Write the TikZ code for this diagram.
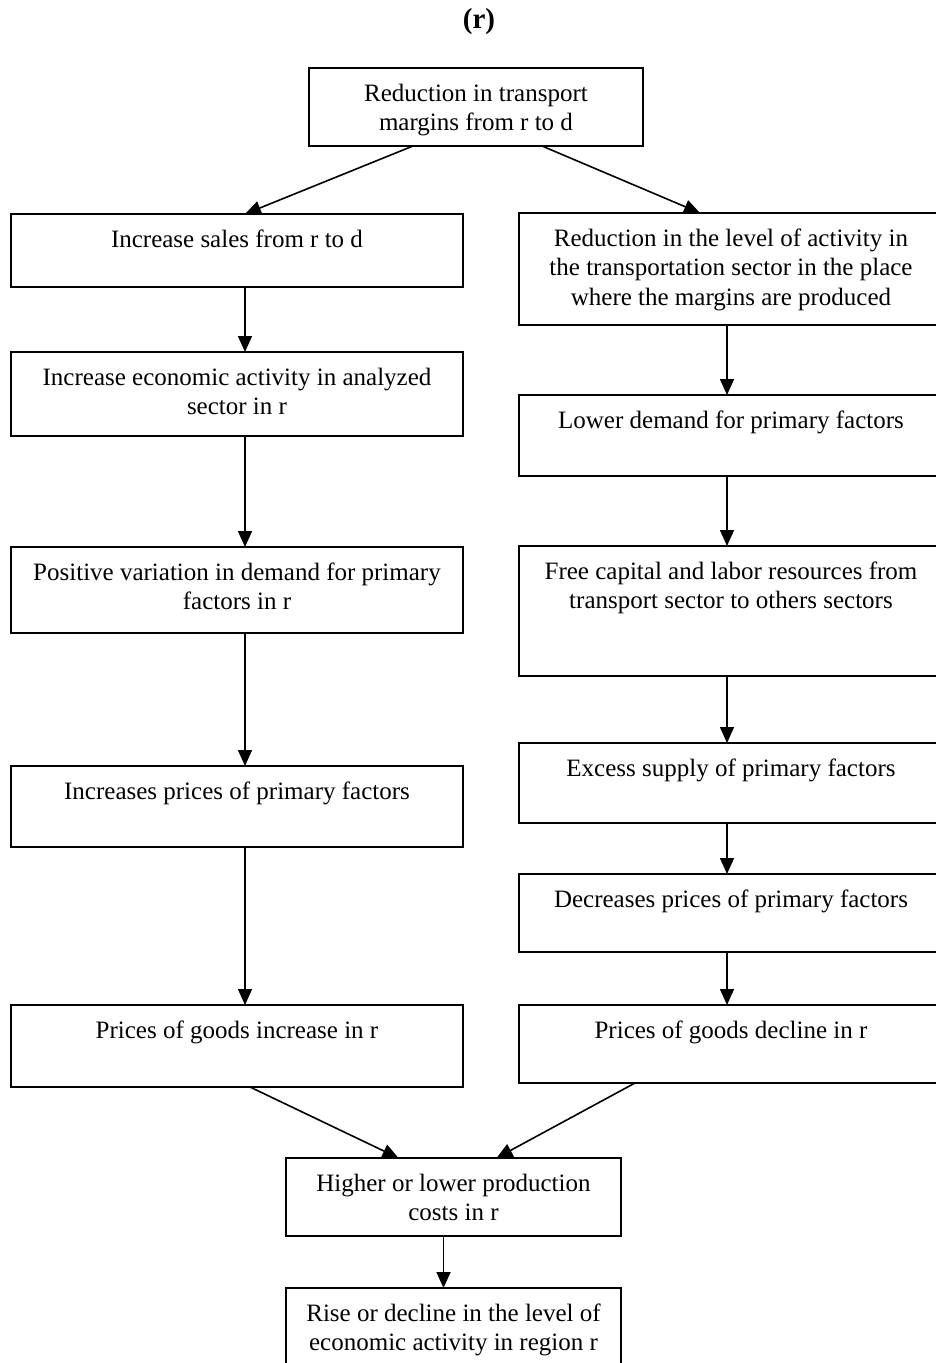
\documentclass[tikz,border=0pt]{standalone}
\usepackage{fontspec}
\setmainfont{Liberation Serif}
\usetikzlibrary{arrows.meta}
\newcommand{\flowbox}[6]{%
  \node[fbox, anchor=north west] (#1) at (#2,#3)
  {\parbox[c][\dimexpr #5pt-#3pt\relax][t]{\dimexpr #4pt-#2pt\relax}{\centering\vspace*{12.5pt}\strut #6\par}};}
\tikzset{
  fbox/.style={draw, line width=1.9pt, inner sep=0pt, outer sep=0pt,
    font=\fontsize{25}{29.5}\selectfont},
  arr/.style={line width=1.6pt, -{Triangle[length=16pt,width=14pt]}}
}
\begin{document}
\begin{tikzpicture}[x=1pt,y=-1pt]
\useasboundingbox (0,0) rectangle (936,1363);
\node[font=\bfseries\fontsize{29}{32}\selectfont] (title) at (479,22) {(r)};
\flowbox{T}{309}{68}{643}{146}{Reduction in transport\\margins from r to d}
\flowbox{L1}{11}{214}{463}{287}{Increase sales from r to d}
\flowbox{L2}{11}{352}{463}{436}{Increase economic activity in analyzed\\sector in r}
\flowbox{L3}{11}{547}{463}{633}{Positive variation in demand for primary\\factors in r}
\flowbox{L4}{11}{766}{463}{847}{Increases prices of primary factors}
\flowbox{L5}{11}{1005}{463}{1087}{Prices of goods increase in r}
\flowbox{R1}{519}{213}{943}{325}{Reduction in the level of activity in\\the transportation sector in the place\\where the margins are produced}
\flowbox{R2}{519}{395}{943}{476}{Lower demand for primary factors}
\flowbox{R3}{519}{546}{943}{676}{Free capital and labor resources from\\transport sector to others sectors}
\flowbox{R4}{519}{743}{943}{823}{Excess supply of primary factors}
\flowbox{R5}{519}{874}{943}{952}{Decreases prices of primary factors}
\flowbox{R6}{519}{1005}{943}{1083}{Prices of goods decline in r}
\flowbox{B1}{286}{1158}{621}{1236}{Higher or lower production\\costs in r}
\flowbox{B2}{286}{1288}{621}{1380}{Rise or decline in the level of\\economic activity in region r}
% connectors
\draw[arr] ([xshift=-63pt]T.south) -- ([xshift=8pt]L1.north);
\draw[arr] ([xshift=66pt]T.south) -- ([xshift=-31pt]R1.north);
\draw[arr] ([xshift=8pt]L1.south) -- ([xshift=8pt]L2.north);
\draw[arr] ([xshift=8pt]L2.south) -- ([xshift=8pt]L3.north);
\draw[arr] ([xshift=8pt]L3.south) -- ([xshift=8pt]L4.north);
\draw[arr] ([xshift=8pt]L4.south) -- ([xshift=8pt]L5.north);
\draw[arr] ([xshift=-4pt]R1.south) -- ([xshift=-4pt]R2.north);
\draw[arr] ([xshift=-4pt]R2.south) -- ([xshift=-4pt]R3.north);
\draw[arr] ([xshift=-4pt]R3.south) -- ([xshift=-4pt]R4.north);
\draw[arr] ([xshift=-4pt]R4.south) -- ([xshift=-4pt]R5.north);
\draw[arr] ([xshift=-4pt]R5.south) -- ([xshift=-4pt]R6.north);
\draw[arr] ([xshift=13pt]L5.south) -- ([xshift=-55pt]B1.north);
\draw[arr] ([xshift=-96pt]R6.south) -- ([xshift=43pt]B1.north);
\draw[arr] ([xshift=-10pt]B1.south) -- ([xshift=-10pt]B2.north);
\end{tikzpicture}
\end{document}
